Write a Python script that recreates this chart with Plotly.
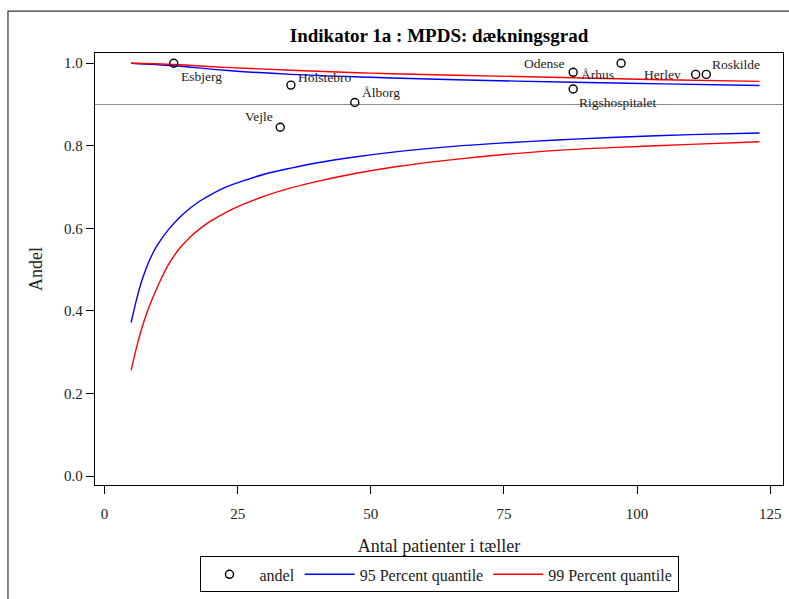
import plotly.graph_objects as go

# Hospital results: number of patients (denominator) and observed share
hospitals = ["Esbjerg", "Holstebro", "Ålborg", "Vejle", "Odense", "Århus",
             "Rigshospitalet", "Herlev", "Roskilde"]
n_patients = [13, 35, 47, 33, 88, 97, 88, 111, 113]
andel = [1.0, 0.947, 0.905, 0.845, 0.978, 1.0, 0.9375, 0.973, 0.973]

# Standard (target) level
standard = 0.9

# Funnel limits: 95 percent quantile
q95_upper_n = [5, 13, 22.6, 35, 50, 66, 88, 105, 123]
q95_upper = [1.0, 0.994, 0.983, 0.973, 0.966, 0.960, 0.954, 0.950, 0.946]
q95_lower_n = [5, 6, 7, 8, 9, 10, 12, 14, 16, 18, 20, 23, 26, 30, 35, 40, 47,
               55, 65, 75, 85, 95, 110, 123]
q95_lower = [0.372, 0.427, 0.473, 0.509, 0.538, 0.561, 0.597, 0.625, 0.648,
             0.667, 0.682, 0.701, 0.715, 0.731, 0.746, 0.759, 0.773, 0.786,
             0.798, 0.807, 0.814, 0.820, 0.827, 0.831]

# Funnel limits: 99 percent quantile
q99_upper_n = [5, 13, 22.6, 35, 50, 66, 88, 105, 123]
q99_upper = [1.0, 0.997, 0.990, 0.983, 0.976, 0.971, 0.965, 0.960, 0.956]
q99_lower_n = [5, 6, 7, 8, 9, 10, 12, 14, 16, 18, 20, 23, 26, 30, 35, 40, 47,
               55, 65, 75, 85, 95, 110, 123]
q99_lower = [0.256, 0.311, 0.358, 0.397, 0.430, 0.460, 0.512, 0.550, 0.578,
             0.600, 0.618, 0.640, 0.658, 0.678, 0.698, 0.714, 0.733, 0.750,
             0.766, 0.779, 0.789, 0.7955, 0.8035, 0.810]

x_ticks = [0, 25, 50, 75, 100, 125]
y_ticks = [0.0, 0.2, 0.4, 0.6, 0.8, 1.0]

title_text = "Indikator 1a : MPDS: dækningsgrad"
x_title = "Antal patienter i tæller"
y_title = "Andel"

# Label placement around each marker: (xanchor, xshift, yshift)
label_place = {
    "Esbjerg": ("left", 5, -13),
    "Holstebro": ("left", 5, 8),
    "Ålborg": ("left", 5, 10),
    "Vejle": ("right", -5, 11),
    "Odense": ("right", -6, 9),
    "Århus": ("right", -5, -11),
    "Rigshospitalet": ("left", 4, -13),
    "Herlev": ("right", -13, 0),
    "Roskilde": ("left", 4, 10),
}

FONT = "Liberation Serif"
BLUE = "#0000ff"
RED = "#ff0000"

fig = go.Figure()

line_style = dict(width=1.4, shape="spline", smoothing=1.0)
fig.add_trace(go.Scatter(x=q95_upper_n, y=q95_upper, mode="lines",
                         line=dict(color=BLUE, **line_style),
                         name="95 Percent quantile", legendgroup="q95",
                         legendrank=2, hoverinfo="skip"))
fig.add_trace(go.Scatter(x=q95_lower_n, y=q95_lower, mode="lines",
                         line=dict(color=BLUE, **line_style),
                         name="95 Percent quantile", legendgroup="q95",
                         showlegend=False, hoverinfo="skip"))
fig.add_trace(go.Scatter(x=q99_upper_n, y=q99_upper, mode="lines",
                         line=dict(color=RED, **line_style),
                         name="99 Percent quantile", legendgroup="q99",
                         legendrank=3, hoverinfo="skip"))
fig.add_trace(go.Scatter(x=q99_lower_n, y=q99_lower, mode="lines",
                         line=dict(color=RED, **line_style),
                         name="99 Percent quantile", legendgroup="q99",
                         showlegend=False, hoverinfo="skip"))
fig.add_trace(go.Scatter(x=n_patients, y=andel, mode="markers",
                         marker=dict(symbol="circle-open", size=8,
                                     color="black", line=dict(width=1.4)),
                         name="andel", legendrank=1, text=hospitals))

for name, nx, ny in zip(hospitals, n_patients, andel):
    anchor, dx, dy = label_place[name]
    fig.add_annotation(x=nx, y=ny, text=name, showarrow=False,
                       xanchor=anchor, yanchor="middle", xshift=dx, yshift=dy,
                       font=dict(family=FONT, size=13.5, color="#222"))

# Reference line at the standard
fig.add_shape(type="line", xref="paper", yref="y", x0=0, x1=1,
              y0=standard, y1=standard, line=dict(color="#8c8c8c", width=1),
              layer="below")

# Outer frame around the graph
fig.add_shape(type="rect", xref="paper", yref="paper",
              x0=-0.1265, x1=1.3, y0=-0.6, y1=1.097,
              line=dict(color="#333", width=1.2))

axis_common = dict(showgrid=False, zeroline=False, showline=True,
                   linecolor="black", linewidth=1.3, mirror=True,
                   ticks="outside", ticklen=8, tickwidth=1.2,
                   tickcolor="black",
                   tickfont=dict(family=FONT, size=15, color="#222"))

fig.update_layout(
    width=789, height=599,
    margin=dict(l=95, r=6, t=53, b=111),
    paper_bgcolor="white", plot_bgcolor="white",
    font=dict(family=FONT, color="#222"),
    title=dict(text="<b>" + title_text + "</b>", x=0.5, xref="paper",
               xanchor="center", y=1 - 35 / 599, yanchor="middle",
               font=dict(family=FONT, size=19, color="black")),
    xaxis=dict(range=[-1.784, 127.4], tickvals=x_ticks,
               ticklabelstandoff=7,
               title=dict(text=x_title, standoff=18,
                          font=dict(family=FONT, size=18, color="#222")),
               **axis_common),
    yaxis=dict(range=[-0.0216, 1.0248], tickvals=y_ticks, tickformat=".1f",
               title=dict(text=y_title, standoff=16,
                          font=dict(family=FONT, size=18, color="#222")),
               **axis_common),
    showlegend=True,
    legend=dict(orientation="h", x=0.5, xanchor="center", y=-0.207,
                yanchor="middle", bordercolor="black", borderwidth=1,
                bgcolor="white", itemwidth=50,
                font=dict(family=FONT, size=16, color="#222")),
)

fig.write_html("out.html")
